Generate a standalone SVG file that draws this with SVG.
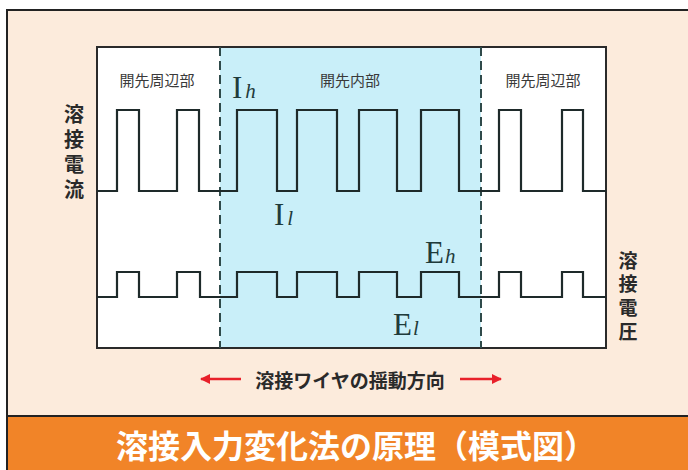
<svg xmlns="http://www.w3.org/2000/svg" width="688" height="470" viewBox="0 0 688 470">
<defs>
<style>
.wave{fill:none;stroke:#1e2a2a;stroke-width:2.2;stroke-linejoin:miter}
.box{fill:none;stroke:#2a2a2a;stroke-width:2}
.dash{stroke:#2f4a4a;stroke-width:2;stroke-dasharray:9,5}
.region{font-family:"Noto Sans CJK JP","Noto Sans CJK SC",sans-serif;font-size:15px;fill:#3a3a3a;text-anchor:middle}
.axis{font-family:"Noto Sans CJK JP","Noto Sans CJK SC",sans-serif;font-weight:bold;fill:#2a2a2a;writing-mode:vertical-rl}
.sym{font-family:"Liberation Serif","DejaVu Serif",serif;fill:#1f3b3b}
.arrow{stroke:#e8202a;stroke-width:2.5}
</style>
<marker id="ah" viewBox="0 0 10 10" refX="9" refY="5" markerWidth="5" markerHeight="4" markerUnits="strokeWidth" orient="auto">
<path d="M0,0 L10,5 L0,10 Z" fill="#e8202a"/>
</marker>
</defs>
<rect x="0" y="0" width="688" height="470" fill="#ffffff"/>
<rect x="7" y="10" width="690" height="460" fill="#fcebdc"/>
<path d="M7,470 V10 H688" fill="none" stroke="#222" stroke-width="2"/>
<g id="plot">
<rect x="97" y="47" width="509" height="301" fill="#ffffff"/>
<rect x="220" y="47" width="261" height="301" fill="#c9eff9"/>
<rect x="97" y="47" width="509" height="301" class="box"/>
</g>
<g id="dividers">
<line x1="220" y1="47" x2="220" y2="348" class="dash"/>
<line x1="481" y1="47" x2="481" y2="348" class="dash"/>
</g>
<g id="current-wave">
<path class="wave" d="M97,191 H117 V110 H139 V191 H177 V110 H199 V191 H237 V110 H277 V191 H297 V110 H337 V191 H359 V110 H397 V191 H421 V110 H459 V191 H499 V110 H521 V191 H562 V110 H583 V191 H606"/>
</g>
<g id="voltage-wave">
<path class="wave" d="M97,297 H117 V272 H139 V297 H177 V272 H200 V297 H237 V272 H277 V297 H297 V272 H337 V297 H359 V272 H397 V297 H421 V272 H459 V297 H499 V272 H521 V297 H562 V272 H583 V297 H606"/>
</g>
<g id="region-labels">
<text x="157" y="86" class="region">開先周辺部</text>
<text x="350" y="86" class="region">開先内部</text>
<text x="543" y="86" class="region">開先周辺部</text>
</g>
<g id="symbols">
<text x="232" y="98" class="sym" font-size="31">I<tspan font-size="21" font-style="italic" dx="3">h</tspan></text>
<text x="274" y="225" class="sym" font-size="31">I<tspan font-size="21" font-style="italic" dx="3">l</tspan></text>
<text x="425" y="263" class="sym" font-size="31">E<tspan font-size="21" font-style="italic" dx="1">h</tspan></text>
<text x="393" y="335" class="sym" font-size="31">E<tspan font-size="21" font-style="italic" dx="1">l</tspan></text>
</g>
<g id="label-current">
<text x="74" y="104" class="axis" font-size="20" letter-spacing="5">溶接電流</text>
</g>
<g id="label-voltage">
<text x="628" y="251" class="axis" font-size="19" letter-spacing="4.7">溶接電圧</text>
</g>
<g id="connectors">
<line x1="241" y1="379" x2="201" y2="379" class="arrow" marker-end="url(#ah)"/>
<line x1="460" y1="379" x2="501" y2="379" class="arrow" marker-end="url(#ah)"/>
</g>
<g id="caption">
<text x="350" y="388" font-family="Noto Sans CJK JP, Noto Sans CJK SC, sans-serif" font-size="19" font-weight="bold" fill="#2a2a2a" text-anchor="middle">溶接ワイヤの揺動方向</text>
</g>
<g id="title">
<rect x="8" y="416" width="680" height="54" fill="#f18428"/>
<line x1="7" y1="416" x2="688" y2="416" stroke="#222" stroke-width="2"/>
<text x="356" y="458" font-family="Noto Sans CJK JP, Noto Sans CJK SC, sans-serif" font-size="32" font-weight="bold" fill="#ffffff" text-anchor="middle">溶接入力変化法の原理（模式図）</text>
</g>
</svg>
